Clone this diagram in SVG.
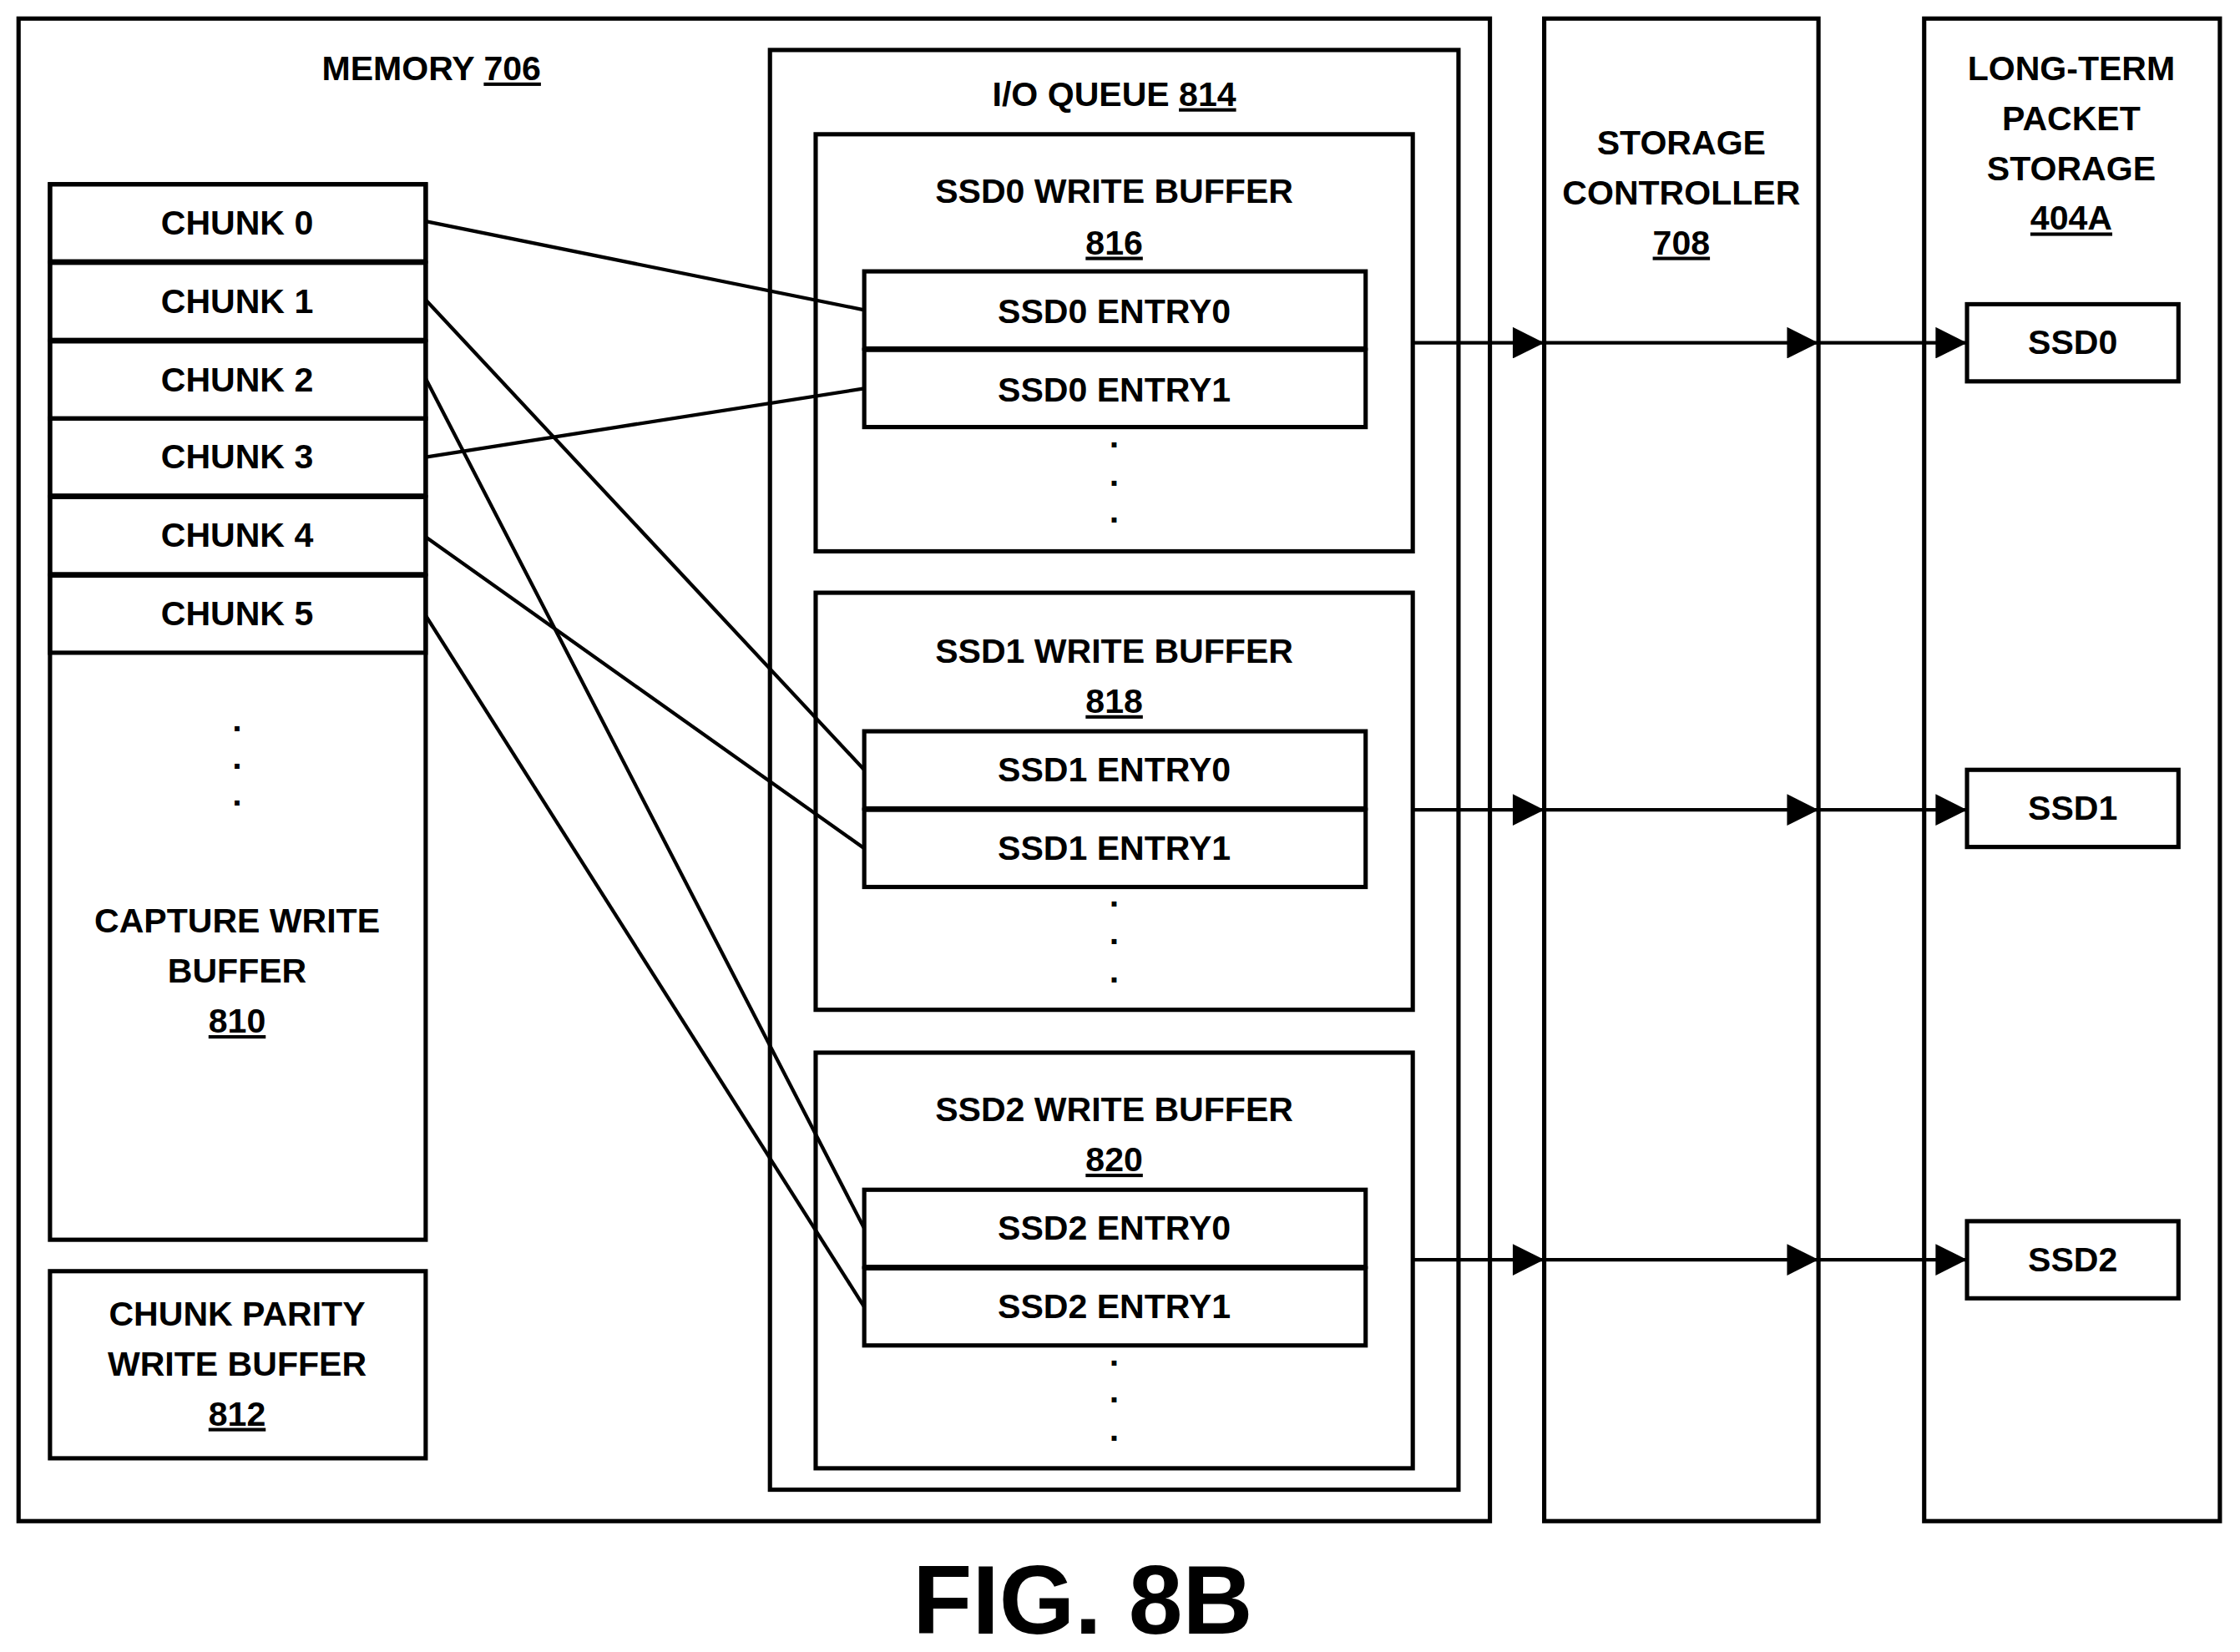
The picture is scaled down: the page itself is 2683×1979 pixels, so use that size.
<svg xmlns="http://www.w3.org/2000/svg" width="2683" height="1979" viewBox="0 0 2683 1979">
<defs>
<style>
.b{fill:none;stroke:#000;stroke-width:3}
.t{font-family:"Liberation Sans",Arial,sans-serif;font-weight:bold;font-size:24px;text-anchor:middle;fill:#000}
.u{text-decoration:underline}
.l{stroke:#000;stroke-width:2.5;fill:none}
</style>
<marker id="a" markerWidth="10" markerHeight="10" refX="9" refY="5" orient="auto" markerUnits="userSpaceOnUse"><path d="M0,0 L10,5 L0,10 z" transform="scale(2.4) translate(-5.5,-2.9)"/></marker>
<marker id="ah" viewBox="0 0 10 10" refX="10" refY="5" markerWidth="24" markerHeight="22" orient="auto" markerUnits="userSpaceOnUse"><path d="M0,0 L10,5 L0,10 z"/></marker>
</defs>
<rect width="2683" height="1979" fill="#fff"/>
<g transform="scale(1.711)">
<g id="memory"><rect class="b" x="13" y="13" width="1030" height="1052"/><text class="t" x="302" y="56">MEMORY <tspan class="u">706</tspan></text></g>
<g id="capture"><rect class="b" x="35" y="129" width="263" height="739"/>
<text class="t" x="166" y="512">.</text><text class="t" x="166" y="538">.</text><text class="t" x="166" y="564">.</text>
<text class="t" x="166" y="653">CAPTURE WRITE</text><text class="t" x="166" y="688">BUFFER</text><text class="t u" x="166" y="723">810</text></g>
<g id="chunk0"><rect class="b" x="35" y="129" width="263" height="54"/><text class="t" x="166" y="164">CHUNK 0</text></g>
<g id="chunk1"><rect class="b" x="35" y="184" width="263" height="54"/><text class="t" x="166" y="219">CHUNK 1</text></g>
<g id="chunk2"><rect class="b" x="35" y="239" width="263" height="54"/><text class="t" x="166" y="274">CHUNK 2</text></g>
<g id="chunk3"><rect class="b" x="35" y="293" width="263" height="54"/><text class="t" x="166" y="328">CHUNK 3</text></g>
<g id="chunk4"><rect class="b" x="35" y="348" width="263" height="54"/><text class="t" x="166" y="383">CHUNK 4</text></g>
<g id="chunk5"><rect class="b" x="35" y="403" width="263" height="54"/><text class="t" x="166" y="438">CHUNK 5</text></g>
<g id="parity"><rect class="b" x="35" y="890" width="263" height="131"/><text class="t" x="166" y="928">CHUNK PARITY</text><text class="t" x="166" y="963">WRITE BUFFER</text><text class="t u" x="166" y="998">812</text></g>
<g id="ioqueue"><rect class="b" x="539" y="35" width="482" height="1008"/><text class="t" x="780" y="74">I/O QUEUE <tspan class="u">814</tspan></text></g>
<g id="ssd0buf"><rect class="b" x="571" y="94" width="418" height="292"/><text class="t" x="780" y="142">SSD0 WRITE BUFFER</text><text class="t u" x="780" y="178">816</text>
<text class="t" x="780" y="313">.</text><text class="t" x="780" y="340">.</text><text class="t" x="780" y="366">.</text></g>
<g id="ssd0e0"><rect class="b" x="605" y="190" width="351" height="54"/><text class="t" x="780" y="226">SSD0 ENTRY0</text></g>
<g id="ssd0e1"><rect class="b" x="605" y="245" width="351" height="54"/><text class="t" x="780" y="281">SSD0 ENTRY1</text></g>
<g id="ssd1buf"><rect class="b" x="571" y="415" width="418" height="292"/><text class="t" x="780" y="464">SSD1 WRITE BUFFER</text><text class="t u" x="780" y="499">818</text>
<text class="t" x="780" y="635">.</text><text class="t" x="780" y="661">.</text><text class="t" x="780" y="688">.</text></g>
<g id="ssd1e0"><rect class="b" x="605" y="512" width="351" height="54"/><text class="t" x="780" y="547">SSD1 ENTRY0</text></g>
<g id="ssd1e1"><rect class="b" x="605" y="567" width="351" height="54"/><text class="t" x="780" y="602">SSD1 ENTRY1</text></g>
<g id="ssd2buf"><rect class="b" x="571" y="737" width="418" height="291"/><text class="t" x="780" y="785">SSD2 WRITE BUFFER</text><text class="t u" x="780" y="820">820</text>
<text class="t" x="780" y="956">.</text><text class="t" x="780" y="982">.</text><text class="t" x="780" y="1009">.</text></g>
<g id="ssd2e0"><rect class="b" x="605" y="833" width="351" height="54"/><text class="t" x="780" y="868">SSD2 ENTRY0</text></g>
<g id="ssd2e1"><rect class="b" x="605" y="888" width="351" height="54"/><text class="t" x="780" y="923">SSD2 ENTRY1</text></g>
<g id="controller"><rect class="b" x="1081" y="13" width="192" height="1052"/><text class="t" x="1177" y="108">STORAGE</text><text class="t" x="1177" y="143">CONTROLLER</text><text class="t u" x="1177" y="178">708</text></g>
<g id="longterm"><rect class="b" x="1347" y="13" width="207" height="1052"/><text class="t" x="1450" y="56">LONG-TERM</text><text class="t" x="1450" y="91">PACKET</text><text class="t" x="1450" y="126">STORAGE</text><text class="t u" x="1450" y="161">404A</text></g>
<g id="ssd0"><rect class="b" x="1377" y="213" width="148" height="54"/><text class="t" x="1451" y="248">SSD0</text></g>
<g id="ssd1"><rect class="b" x="1377" y="539" width="148" height="54"/><text class="t" x="1451" y="574">SSD1</text></g>
<g id="ssd2"><rect class="b" x="1377" y="855" width="148" height="54"/><text class="t" x="1451" y="890">SSD2</text></g>
<g id="connectors">
<line class="l" x1="298" y1="155" x2="605" y2="217"/>
<line class="l" x1="298" y1="210" x2="605" y2="539"/>
<line class="l" x1="298" y1="265" x2="605" y2="860"/>
<line class="l" x1="298" y1="320" x2="605" y2="272"/>
<line class="l" x1="298" y1="376" x2="605" y2="594"/>
<line class="l" x1="298" y1="431" x2="605" y2="915"/>
<g style="stroke:#000;stroke-width:2.5" marker-end="url(#ah)">
<line x1="989" y1="240" x2="1081" y2="240"/><line x1="1081" y1="240" x2="1273" y2="240"/><line x1="1273" y1="240" x2="1377" y2="240"/>
<line x1="989" y1="567" x2="1081" y2="567"/><line x1="1081" y1="567" x2="1273" y2="567"/><line x1="1273" y1="567" x2="1377" y2="567"/>
<line x1="989" y1="882" x2="1081" y2="882"/><line x1="1081" y1="882" x2="1273" y2="882"/><line x1="1273" y1="882" x2="1377" y2="882"/>
</g>
</g>
<text class="t" x="758" y="1144" style="font-size:68px">FIG. 8B</text>
</g>
</svg>
